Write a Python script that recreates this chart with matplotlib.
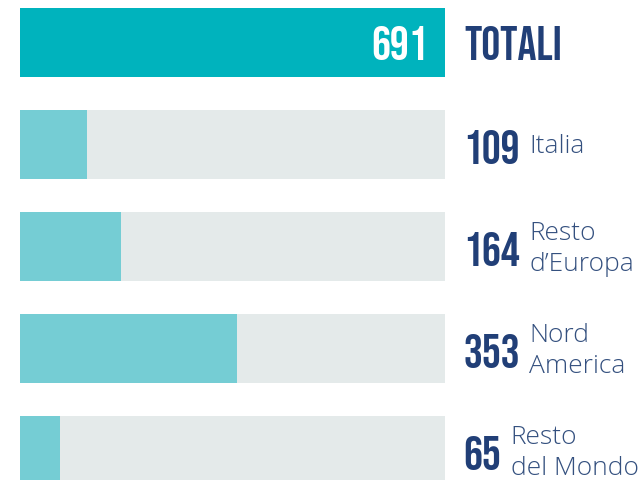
import matplotlib.pyplot as plt

categorie = ["TOTALI", "Italia", "Resto\nd\u2019Europa", "Nord\nAmerica", "Resto\ndel Mondo"]
valori = [691, 109, 164, 353, 65]
totale = 691

teal = "#00b3bd"
teal_light = "#75cdd4"
grigio = "#e4eaea"
navy = "#213f77"
navy_light = "#34507f"

num_font = "Bebas Neue"

fig = plt.figure(figsize=(6.41, 4.81), dpi=100)
ax = fig.add_axes([20 / 641, 0, 425 / 641, 1])

y = list(range(len(valori)))
ax.barh(y[1:], [totale] * (len(valori) - 1), height=0.68, color=grigio)
ax.barh(y[0], valori[0], height=0.68, color=teal)
ax.barh(y[1:], valori[1:], height=0.68, color=teal_light)

ax.set_xlim(0, totale)
ax.set_ylim(4.289, -0.426)
ax.axis("off")

# valore totale dentro la barra
ax.annotate(str(valori[0]), xy=(totale, 0), xytext=(-12, 0), textcoords="offset points",
            ha="right", va="center", color="white", fontsize=34, fontfamily=num_font)
ax.annotate(categorie[0], xy=(totale, 0), xytext=(14, 0), textcoords="offset points",
            ha="left", va="center", color=navy, fontsize=34,
            fontfamily=num_font, annotation_clip=False)

for i in range(1, len(valori)):
    t = ax.annotate(str(valori[i]), xy=(totale, i), xytext=(13, -1), textcoords="offset points",
                    ha="left", va="center", color=navy, fontsize=34,
                    fontfamily=num_font, annotation_clip=False)
    ax.annotate(categorie[i], xy=(1, 0.5), xycoords=t, xytext=(7, 0), textcoords="offset points",
                ha="left", va="center", color=navy_light, fontsize=19,
                fontfamily="Open Sans", fontweight="light", linespacing=1.3,
                annotation_clip=False)

fig.savefig("out.png", dpi=100)
